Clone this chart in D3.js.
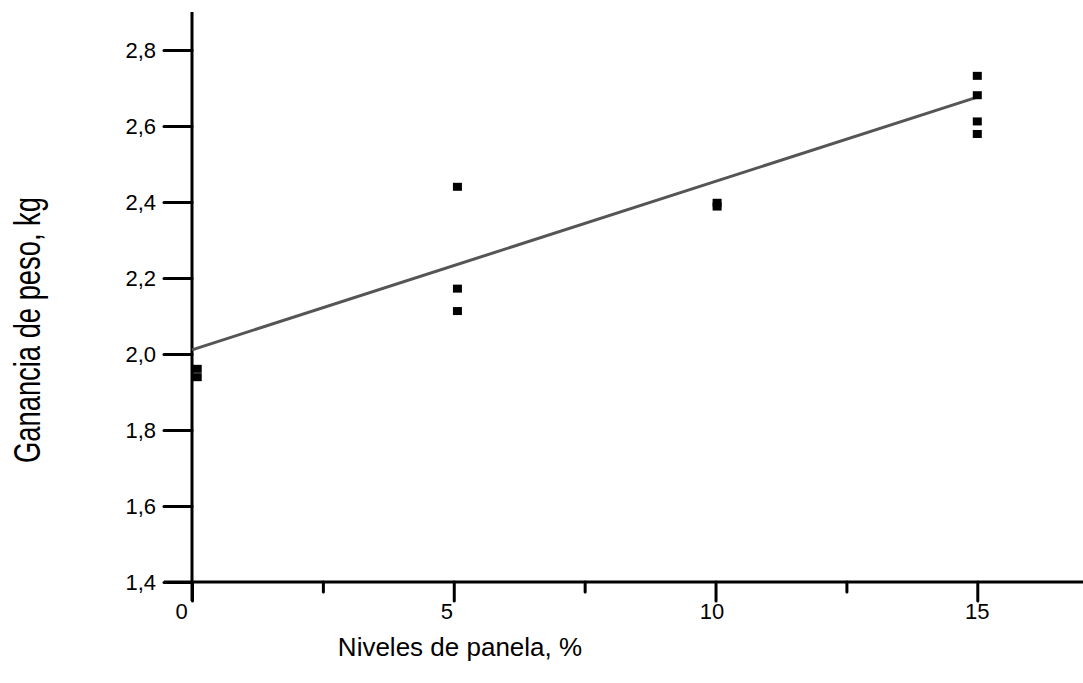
<!DOCTYPE html>
<html>
<head>
<meta charset="utf-8">
<script src="https://cdn.jsdelivr.net/npm/d3@7"></script>
<style>
  body { margin: 0; background: white; }
  text { font-family: Arial, "Liberation Sans", sans-serif; fill: black; }
</style>
</head>
<body>
<svg id="plot"></svg>
<script>
// data
const nivel = [0.1, 0.1, 5.07, 5.07, 5.07, 10.03, 10.03, 15, 15, 15, 15];
const ganancia = [1.961, 1.939, 2.44, 2.172, 2.113, 2.398, 2.388, 2.732, 2.681, 2.612, 2.579];
const lineX = [0, 15];
const lineY = [2.011, 2.676];
const yTicks = [1.4, 1.6, 1.8, 2.0, 2.2, 2.4, 2.6, 2.8];
const xTicks = [0, 5, 10, 15];
const xMinor = [2.5, 7.5, 12.5];

let width = 1083, height = 683;
let svg = d3.select('#plot')
  .attr('width', width)
  .attr('height', height)
  .style('background', 'white');

let xScale = d3.scaleLinear().domain([0, 17]).range([192, 1082]);
let yScale = d3.scaleLinear().domain([1.4, 2.9]).range([582, 12]);

let fmt = d => d.toFixed(1).replace('.', ',');

// y axis
let yAxis = svg.append('g')
  .attr('transform', `translate(${xScale(0)}, 0)`)
  .call(d3.axisLeft(yScale).tickValues(yTicks).tickSize(28).tickPadding(8).tickFormat(fmt));

// x axis, major and minor ticks
let xAxis = svg.append('g')
  .attr('transform', `translate(0, ${yScale(1.4)})`)
  .call(d3.axisBottom(xScale).tickValues(xTicks).tickSize(19).tickFormat(d3.format('d')));

let xAxisMinor = svg.append('g')
  .attr('transform', `translate(0, ${yScale(1.4)})`)
  .call(d3.axisBottom(xScale).tickValues(xMinor).tickSize(10).tickFormat(''));

svg.selectAll('.domain').remove();
svg.selectAll('.tick line')
  .attr('stroke', 'black')
  .attr('stroke-width', 3)
  .attr('stroke-linecap', 'round');
svg.selectAll('.tick text')
  .style('font-size', '22px')
  .style('font-family', 'Arial, "Liberation Sans", sans-serif');
xAxis.selectAll('.tick text')
  .attr('y', 21)
  .attr('dx', d => -11 + 0.7 * d);

// axis lines
svg.append('line')
  .attr('x1', xScale(0)).attr('x2', xScale(0))
  .attr('y1', yScale(2.9)).attr('y2', yScale(1.4) + 19)
  .attr('stroke', 'black').attr('stroke-width', 3);
svg.append('line')
  .attr('x1', xScale(0) - 28).attr('x2', width)
  .attr('y1', yScale(1.4)).attr('y2', yScale(1.4))
  .attr('stroke', 'black').attr('stroke-width', 3);

// regression line
svg.append('path')
  .datum(lineX.map((d, i) => [d, lineY[i]]))
  .attr('d', d3.line().x(d => xScale(d[0])).y(d => yScale(d[1])))
  .attr('fill', 'none')
  .attr('stroke', '#555')
  .attr('stroke-width', 3);

// points
svg.selectAll('rect.pt')
  .data(nivel.map((d, i) => [d, ganancia[i]]))
  .enter()
  .append('rect')
  .attr('class', 'pt')
  .attr('x', d => xScale(d[0]) - 4.5)
  .attr('y', d => yScale(d[1]) - 4)
  .attr('width', 9)
  .attr('height', 8)
  .attr('fill', 'black');

// axis titles
svg.append('text')
  .attr('x', 460)
  .attr('y', 656)
  .attr('text-anchor', 'middle')
  .style('font-size', '26px')
  .text('Niveles de panela, %');

svg.append('text')
  .attr('transform', 'translate(40, 330) rotate(-90)')
  .attr('text-anchor', 'middle')
  .attr('textLength', 266)
  .attr('lengthAdjust', 'spacingAndGlyphs')
  .style('font-size', '37px')
  .text('Ganancia de peso, kg');
</script>
</body>
</html>
